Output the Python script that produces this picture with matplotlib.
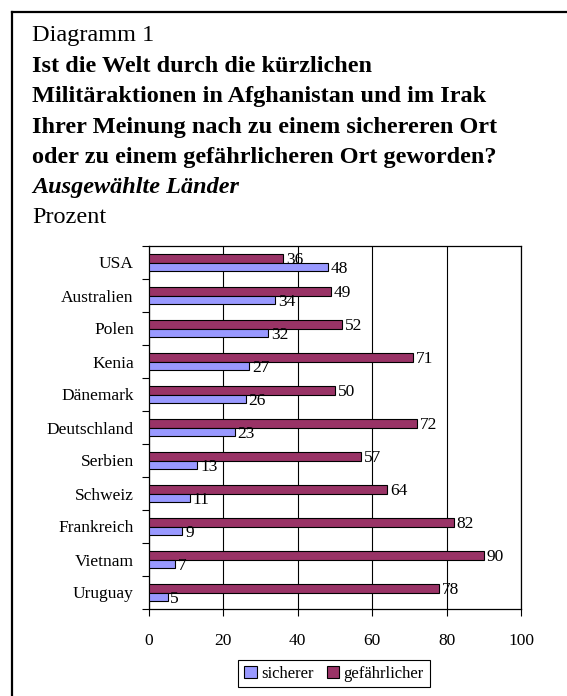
import matplotlib
matplotlib.use('Agg')
import matplotlib.pyplot as plt
import numpy as np
from matplotlib.lines import Line2D
from matplotlib.patches import Patch

plt.rcParams['font.family'] = 'Liberation Serif'

# Data
countries = ['USA', 'Australien', 'Polen', 'Kenia', 'Dänemark', 'Deutschland',
             'Serbien', 'Schweiz', 'Frankreich', 'Vietnam', 'Uruguay']
sicherer = [48, 34, 32, 27, 26, 23, 13, 11, 9, 7, 5]
gefaehrlicher = [36, 49, 52, 71, 50, 72, 57, 64, 82, 90, 78]
xticks = [0, 20, 40, 60, 80, 100]

col_sicher = '#9999FF'
col_gefahr = '#993366'

W, H = 567, 696
fig = plt.figure(figsize=(W / 100, H / 100), dpi=100)

# outer frame (only top and left are visible in the crop)
fig.add_artist(Line2D([12 / W, 1], [1 - 12 / H, 1 - 12 / H], color='black', lw=1.6,
                      transform=fig.transFigure))
fig.add_artist(Line2D([12 / W, 12 / W], [0, 1 - 12 / H], color='black', lw=1.6,
                      transform=fig.transFigure))

# title block
x0 = 32 / W
fs = 17.5
fig.text(x0, 1 - 41 / H, 'Diagramm 1', fontsize=fs, va='baseline')
bold_lines = ['Ist die Welt durch die kürzlichen',
              'Militäraktionen in Afghanistan und im Irak',
              'Ihrer Meinung nach zu einem sichereren Ort',
              'oder zu einem gefährlicheren Ort geworden?']
for i, line in enumerate(bold_lines):
    fig.text(x0, 1 - (72 + 30.3 * i) / H, line, fontsize=fs, fontweight='bold', va='baseline')
fig.text(x0, 1 - 193 / H, 'Ausgewählte Länder', fontsize=fs, fontweight='bold',
         fontstyle='italic', va='baseline')
fig.text(x0, 1 - 223 / H, 'Prozent', fontsize=fs, va='baseline')

# chart
ax = fig.add_axes([149 / W, 1 - 609 / H, 372 / W, 363 / H])
n = len(countries)
y = np.arange(n)[::-1]
h = 0.27
bars_g = ax.barh(y + h / 2, gefaehrlicher, height=h, color=col_gefahr,
                 edgecolor='black', linewidth=0.8, zorder=3)
bars_s = ax.barh(y - h / 2, sicherer, height=h, color=col_sicher,
                 edgecolor='black', linewidth=0.8, zorder=3)

for bars, vals in ((bars_g, gefaehrlicher), (bars_s, sicherer)):
    for b, v in zip(bars, vals):
        ax.annotate(str(v), (b.get_width(), b.get_y() + b.get_height() / 2),
                    xytext=(2, -1.5), textcoords='offset points',
                    ha='left', va='center', fontsize=12.5, zorder=4)

ax.set_xlim(0, 100)
ax.set_ylim(-0.5, n - 0.5)
ax.set_xticks(xticks)
ax.set_yticks(y)
ax.set_yticklabels(countries)
ax.set_yticks(np.arange(n + 1) - 0.5, minor=True)
ax.tick_params(axis='y', which='major', length=0, pad=11, labelsize=12.5)
ax.tick_params(axis='y', which='minor', length=5, direction='out', width=0.8)
ax.tick_params(axis='x', length=5, direction='out', width=0.8, pad=12, labelsize=12.5)
ax.xaxis.grid(True, color='black', linewidth=0.8, zorder=0)
ax.set_axisbelow(True)
for s in ax.spines.values():
    s.set_linewidth(0.9)

handles = [Patch(facecolor=col_sicher, edgecolor='black', linewidth=0.8),
           Patch(facecolor=col_gefahr, edgecolor='black', linewidth=0.8)]
leg = fig.legend(handles, ['sicherer', 'gefährlicher'], loc='center',
                 bbox_to_anchor=(334 / W, 1 - 673.5 / H), ncol=2, fontsize=12,
                 frameon=True, fancybox=False, edgecolor='black', framealpha=1,
                 handlelength=0.75, handleheight=0.75, handletextpad=0.25,
                 columnspacing=0.8, borderpad=0.35, borderaxespad=0)
leg.get_frame().set_linewidth(0.8)

fig.savefig('out.png', dpi=100)
